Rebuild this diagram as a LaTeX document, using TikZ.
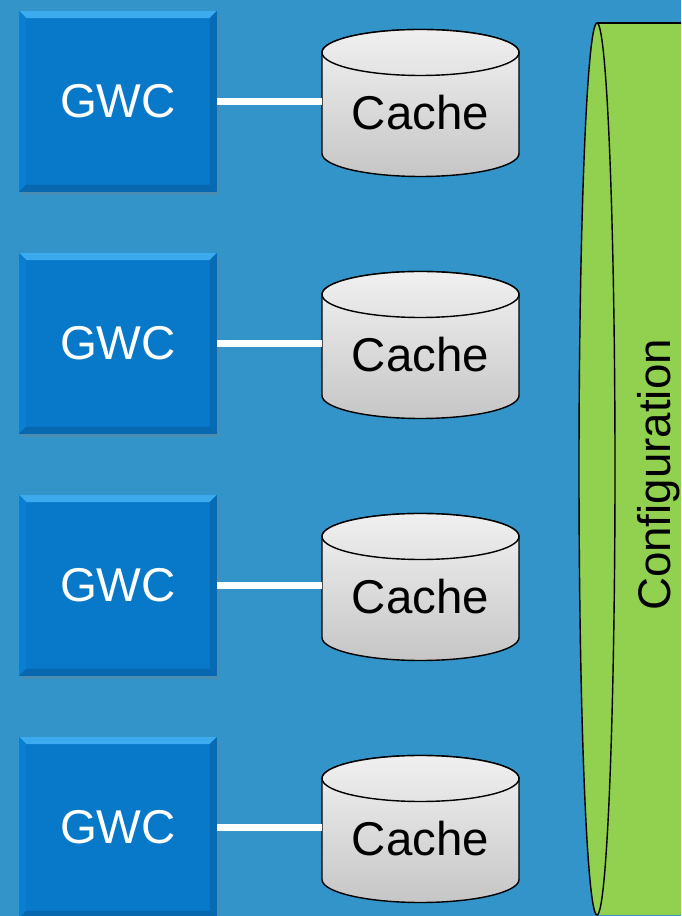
\documentclass[tikz,border=0pt]{standalone}
\usepackage{fontspec}
\setmainfont{Liberation Sans}
\usetikzlibrary{calc,shadows}

\definecolor{bgblue}{RGB}{50,148,200}
\definecolor{gwcblue}{RGB}{8,120,200}
\definecolor{gwclight}{RGB}{60,170,238}
\definecolor{gwcside}{RGB}{10,126,208}
\definecolor{gwcdark}{RGB}{7,104,176}
\definecolor{confgreen}{RGB}{146,208,80}

\tikzset{
    gwcbox/.style={rectangle, minimum width=3.96cm, minimum height=3.62cm, inner sep=0pt,
        fill=gwcblue, text=white, font=\fontsize{27}{32}\selectfont,
        drop shadow={shadow xshift=0.05cm, shadow yshift=-0.07cm, opacity=0.3},
        path picture={
            \fill[gwclight] (path picture bounding box.north west) -- (path picture bounding box.north east)
                -- ($(path picture bounding box.north east)+(-0.14cm,-0.14cm)$)
                -- ($(path picture bounding box.north west)+(0.14cm,-0.14cm)$) -- cycle;
            \fill[gwcside] (path picture bounding box.north west) -- (path picture bounding box.south west)
                -- ($(path picture bounding box.south west)+(0.14cm,0.14cm)$)
                -- ($(path picture bounding box.north west)+(0.14cm,-0.14cm)$) -- cycle;
            \fill[gwcdark] (path picture bounding box.south west) -- (path picture bounding box.south east)
                -- ($(path picture bounding box.south east)+(-0.14cm,0.14cm)$)
                -- ($(path picture bounding box.south west)+(0.14cm,0.14cm)$) -- cycle;
            \fill[gwcdark!85!gwcblue] (path picture bounding box.north east) -- (path picture bounding box.south east)
                -- ($(path picture bounding box.south east)+(-0.14cm,0.14cm)$)
                -- ($(path picture bounding box.north east)+(-0.14cm,-0.14cm)$) -- cycle;
        }},
    cachelabel/.style={minimum width=3.94cm, inner sep=0pt, font=\fontsize{27}{32}\selectfont},
    drum/.style={draw=black, line width=0.8pt, top color=gray!10, bottom color=gray!45},
    drumtop/.style={draw=black, line width=0.8pt, top color=gray!12, bottom color=gray!22},
    link/.style={white, line width=0.14cm},
}

\begin{document}
\begin{tikzpicture}[x=0.02cm,y=0.02cm]
    \useasboundingbox (0,0) rectangle (681,916);
    \clip (0,0) rectangle (681,916);
    \fill[bgblue] (0,0) rectangle (681,916);

    % configuration store, lying on its side
    \fill[confgreen] (597,893) -- (700,893) -- (700,1) -- (597,1)
        arc[start angle=-90, end angle=-270, x radius=18, y radius=446] -- cycle;
    \draw[line width=0.8pt] (597,447) ellipse[x radius=18, y radius=446];
    \draw[line width=0.8pt] (597,893) -- (700,893);
    \node[rotate=90, anchor=base, font=\fontsize{26}{30}\selectfont] (config) at (670,441) {Configuration};

    % one GWC and its cache per row
    \foreach \i in {1,...,4} {
        \pgfmathsetmacro\yc{916-101.5-242*(\i-1)}
        \draw[drum] (322,\yc+49) -- (322,\yc-52)
            arc[start angle=180, end angle=360, x radius=98.5, y radius=23]
            -- (519,\yc+49) arc[start angle=0, end angle=180, x radius=98.5, y radius=23] -- cycle;
        \draw[drumtop] (420.5,\yc+49) ellipse[x radius=98.5, y radius=23];
        \node[cachelabel] (cache\i) at (420.5,\yc-11) {Cache};
        \node[gwcbox] (gwc\i) at (118,\yc) {GWC};
        \draw[link] (gwc\i.east) -- (gwc\i.east -| cache\i.west);
    }
\end{tikzpicture}
\end{document}
